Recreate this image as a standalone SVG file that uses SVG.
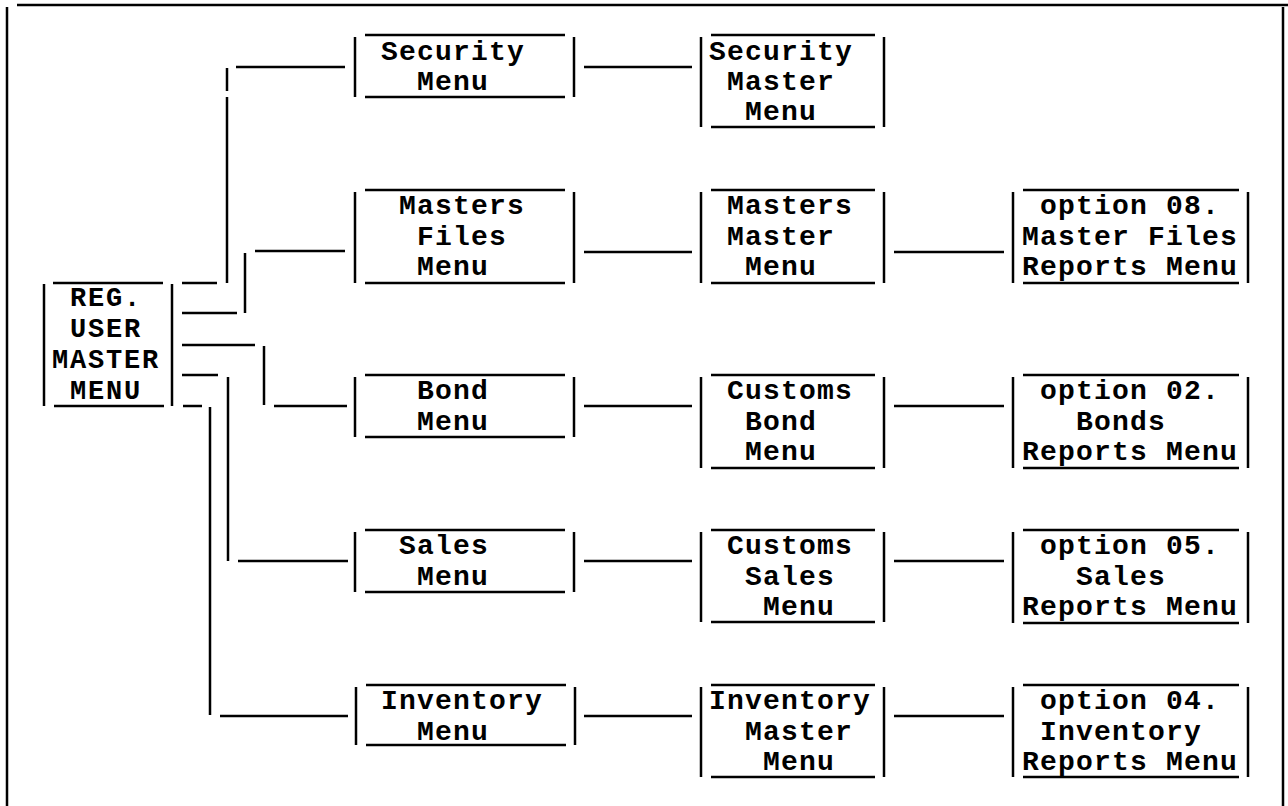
<svg xmlns="http://www.w3.org/2000/svg" width="1288" height="806" viewBox="0 0 1288 806">
<style>
line{stroke:#000;stroke-width:2.5;stroke-linecap:butt}
.t{font-family:"Liberation Mono","DejaVu Sans Mono",monospace;font-weight:bold;font-size:28px;letter-spacing:1.2px;fill:#000}
.r{font-size:27px;letter-spacing:1.8px}
</style>
<rect width="1288" height="806" fill="#fff"/>
<g id="frame">
<line x1="17" y1="5" x2="1288" y2="5"/>
<line x1="7" y1="7" x2="7" y2="806"/>
<line x1="1283" y1="7" x2="1283" y2="806"/>
</g>
<g id="connectors">
<line x1="182" y1="283" x2="217" y2="283"/>
<line x1="227" y1="68" x2="227" y2="91"/>
<line x1="227" y1="97" x2="227" y2="283"/>
<line x1="236" y1="67" x2="345" y2="67"/>
<line x1="182" y1="313" x2="237" y2="313"/>
<line x1="245" y1="253" x2="245" y2="313"/>
<line x1="255" y1="251" x2="345" y2="251"/>
<line x1="182" y1="345" x2="255" y2="345"/>
<line x1="264" y1="346" x2="264" y2="405"/>
<line x1="274" y1="406" x2="347" y2="406"/>
<line x1="182" y1="375" x2="218" y2="375"/>
<line x1="228" y1="377" x2="228" y2="561"/>
<line x1="238" y1="561" x2="348" y2="561"/>
<line x1="183" y1="406" x2="202" y2="406"/>
<line x1="210" y1="407" x2="210" y2="715"/>
<line x1="220" y1="716" x2="348" y2="716"/>
<line x1="584" y1="67" x2="692" y2="67"/>
<line x1="584" y1="252" x2="692" y2="252"/>
<line x1="584" y1="406" x2="692" y2="406"/>
<line x1="584" y1="561" x2="692" y2="561"/>
<line x1="584" y1="716" x2="692" y2="716"/>
<line x1="894" y1="252" x2="1004" y2="252"/>
<line x1="894" y1="406" x2="1004" y2="406"/>
<line x1="894" y1="561" x2="1004" y2="561"/>
<line x1="894" y1="716" x2="1004" y2="716"/>
</g>
<g id="reg-user-master-menu">
<line x1="44" y1="284" x2="44" y2="406"/>
<line x1="53" y1="283" x2="163" y2="283"/>
<line x1="54" y1="406" x2="164" y2="406"/>
<line x1="172" y1="284" x2="172" y2="406"/>
<text class="t r" x="70" y="306">REG.</text>
<text class="t r" x="70" y="337">USER</text>
<text class="t r" x="52" y="368">MASTER</text>
<text class="t r" x="70" y="399">MENU</text>
</g>
<g id="security-menu">
<line x1="355" y1="37" x2="355" y2="97"/>
<line x1="365" y1="35" x2="565" y2="35"/>
<line x1="365" y1="97" x2="565" y2="97"/>
<line x1="574" y1="37" x2="574" y2="97"/>
<text class="t" x="381" y="60">Security</text>
<text class="t" x="417" y="90">Menu</text>
</g>
<g id="security-master-menu">
<line x1="701" y1="37" x2="701" y2="127"/>
<line x1="711" y1="35" x2="875" y2="35"/>
<line x1="711" y1="127" x2="875" y2="127"/>
<line x1="884" y1="37" x2="884" y2="127"/>
<text class="t" x="709" y="60">Security</text>
<text class="t" x="727" y="90">Master</text>
<text class="t" x="745" y="120">Menu</text>
</g>
<g id="masters-files-menu">
<line x1="355" y1="192" x2="355" y2="283"/>
<line x1="365" y1="190" x2="565" y2="190"/>
<line x1="365" y1="283" x2="565" y2="283"/>
<line x1="574" y1="192" x2="574" y2="283"/>
<text class="t" x="399" y="214">Masters</text>
<text class="t" x="417" y="245">Files</text>
<text class="t" x="417" y="275">Menu</text>
</g>
<g id="masters-master-menu">
<line x1="701" y1="192" x2="701" y2="283"/>
<line x1="711" y1="190" x2="875" y2="190"/>
<line x1="711" y1="283" x2="875" y2="283"/>
<line x1="884" y1="192" x2="884" y2="283"/>
<text class="t" x="727" y="214">Masters</text>
<text class="t" x="727" y="245">Master</text>
<text class="t" x="745" y="275">Menu</text>
</g>
<g id="option-08">
<line x1="1013" y1="192" x2="1013" y2="283"/>
<line x1="1023" y1="190" x2="1239" y2="190"/>
<line x1="1023" y1="283" x2="1239" y2="283"/>
<line x1="1248" y1="192" x2="1248" y2="283"/>
<text class="t" x="1040" y="214">option 08.</text>
<text class="t" x="1022" y="245">Master Files</text>
<text class="t" x="1022" y="275">Reports Menu</text>
</g>
<g id="bond-menu">
<line x1="355" y1="377" x2="355" y2="437"/>
<line x1="365" y1="375" x2="565" y2="375"/>
<line x1="365" y1="437" x2="565" y2="437"/>
<line x1="574" y1="377" x2="574" y2="437"/>
<text class="t" x="417" y="399">Bond</text>
<text class="t" x="417" y="430">Menu</text>
</g>
<g id="customs-bond-menu">
<line x1="701" y1="377" x2="701" y2="468"/>
<line x1="711" y1="375" x2="875" y2="375"/>
<line x1="711" y1="468" x2="875" y2="468"/>
<line x1="884" y1="377" x2="884" y2="468"/>
<text class="t" x="727" y="399">Customs</text>
<text class="t" x="745" y="430">Bond</text>
<text class="t" x="745" y="460">Menu</text>
</g>
<g id="option-02">
<line x1="1013" y1="377" x2="1013" y2="468"/>
<line x1="1023" y1="375" x2="1239" y2="375"/>
<line x1="1023" y1="468" x2="1239" y2="468"/>
<line x1="1248" y1="377" x2="1248" y2="468"/>
<text class="t" x="1040" y="399">option 02.</text>
<text class="t" x="1076" y="430">Bonds</text>
<text class="t" x="1022" y="460">Reports Menu</text>
</g>
<g id="sales-menu">
<line x1="355" y1="532" x2="355" y2="592"/>
<line x1="365" y1="530" x2="565" y2="530"/>
<line x1="365" y1="592" x2="565" y2="592"/>
<line x1="574" y1="532" x2="574" y2="592"/>
<text class="t" x="399" y="554">Sales</text>
<text class="t" x="417" y="585">Menu</text>
</g>
<g id="customs-sales-menu">
<line x1="701" y1="532" x2="701" y2="622"/>
<line x1="711" y1="530" x2="875" y2="530"/>
<line x1="711" y1="622" x2="875" y2="622"/>
<line x1="884" y1="532" x2="884" y2="622"/>
<text class="t" x="727" y="554">Customs</text>
<text class="t" x="745" y="585">Sales</text>
<text class="t" x="763" y="615">Menu</text>
</g>
<g id="option-05">
<line x1="1013" y1="532" x2="1013" y2="623"/>
<line x1="1023" y1="530" x2="1239" y2="530"/>
<line x1="1023" y1="623" x2="1239" y2="623"/>
<line x1="1248" y1="532" x2="1248" y2="623"/>
<text class="t" x="1040" y="554">option 05.</text>
<text class="t" x="1076" y="585">Sales</text>
<text class="t" x="1022" y="615">Reports Menu</text>
</g>
<g id="inventory-menu">
<line x1="356" y1="687" x2="356" y2="745"/>
<line x1="366" y1="685" x2="566" y2="685"/>
<line x1="366" y1="745" x2="566" y2="745"/>
<line x1="575" y1="687" x2="575" y2="745"/>
<text class="t" x="381" y="709">Inventory</text>
<text class="t" x="417" y="740">Menu</text>
</g>
<g id="inventory-master-menu">
<line x1="701" y1="687" x2="701" y2="777"/>
<line x1="711" y1="685" x2="875" y2="685"/>
<line x1="711" y1="777" x2="875" y2="777"/>
<line x1="884" y1="687" x2="884" y2="777"/>
<text class="t" x="709" y="709">Inventory</text>
<text class="t" x="745" y="740">Master</text>
<text class="t" x="763" y="770">Menu</text>
</g>
<g id="option-04">
<line x1="1013" y1="687" x2="1013" y2="777"/>
<line x1="1023" y1="685" x2="1239" y2="685"/>
<line x1="1023" y1="777" x2="1239" y2="777"/>
<line x1="1248" y1="687" x2="1248" y2="777"/>
<text class="t" x="1040" y="709">option 04.</text>
<text class="t" x="1040" y="740">Inventory</text>
<text class="t" x="1022" y="770">Reports Menu</text>
</g>
</svg>
